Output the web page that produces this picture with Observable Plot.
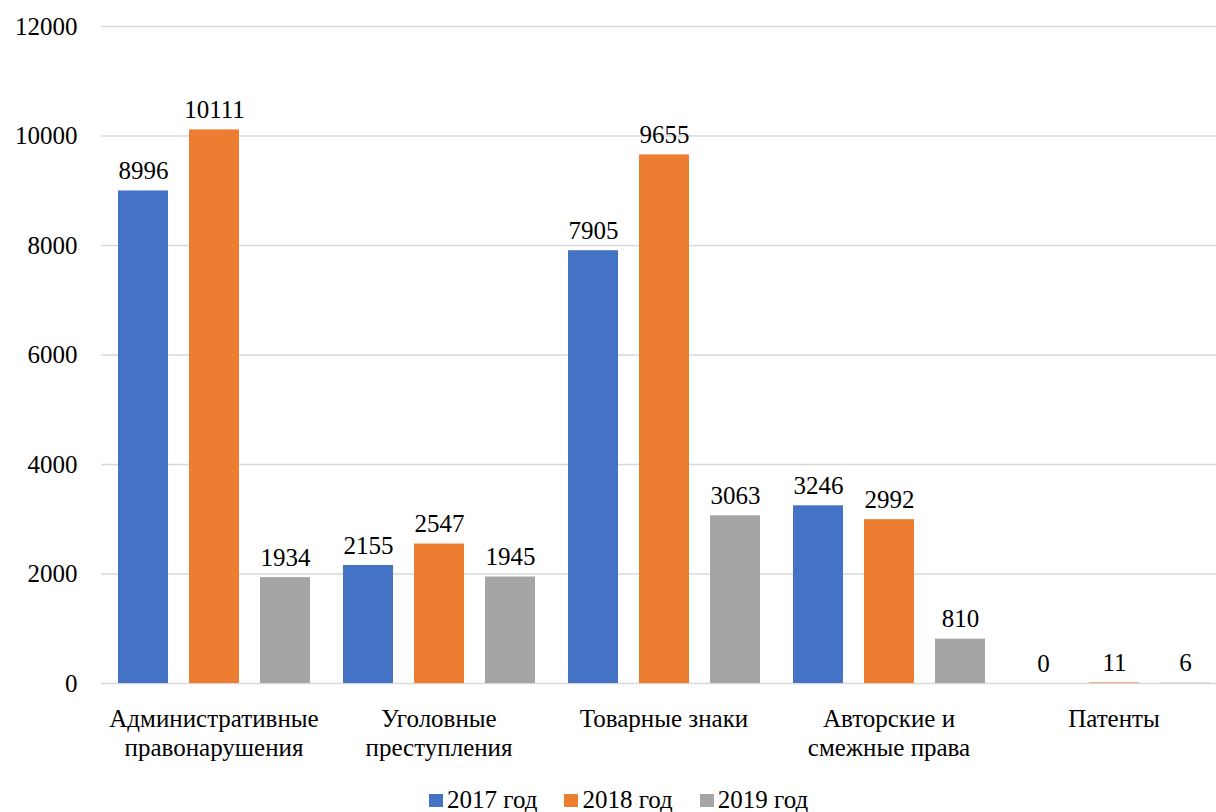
<!DOCTYPE html>
<html><head><meta charset="utf-8">
<script src="https://cdn.jsdelivr.net/npm/d3@7"></script>
<script src="https://cdn.jsdelivr.net/npm/@observablehq/plot@0.6"></script>
<style>
body{margin:0;background:#fff;overflow:hidden;width:1216px;height:812px;position:relative;font-family:'Times New Roman','Liberation Serif',serif;}
#chart{position:absolute;left:0;top:0;}
#chart svg, #chart svg text, #chart svg tspan, #legend, #legend span{font-family:'Times New Roman','Liberation Serif',serif !important;}
#legend{position:absolute;left:429px;top:785px;display:flex;align-items:center;font-size:25px;line-height:30px;color:#000;white-space:nowrap;}
.item{display:flex;align-items:center;margin-right:27px;}
.sw{display:inline-block;width:14px;height:13px;margin-right:4px;}
</style></head><body>
<div id="chart"></div>
<div id="legend"></div>
<script>
const categories = ["Административные правонарушения", "Уголовные преступления", "Товарные знаки", "Авторские и смежные права", "Патенты"];
const categoryLabels = ["Административные\nправонарушения", "Уголовные\nпреступления", "Товарные знаки", "Авторские и\nсмежные права", "Патенты"];
const years = ["2017 год", "2018 год", "2019 год"];
const values2017 = [8996, 2155, 7905, 3246, 0];
const values2018 = [10111, 2547, 9655, 2992, 11];
const values2019 = [1934, 1945, 3063, 810, 6];
const yTicks = [0, 2000, 4000, 6000, 8000, 10000, 12000];
const seriesColors = ["#4472C4", "#ED7D31", "#A5A5A5"];

const series = [values2017, values2018, values2019];
const rows = categories.flatMap((c, i) => series.map((vals, j) => ({category: c, year: years[j], value: vals[i]})));
const labelOf = new Map(categories.map((c, i) => [c, categoryLabels[i]]));
const font = "Times New Roman, Liberation Serif, serif";

const chart = Plot.plot({
  width: 1227, height: 775,
  marginLeft: 100, marginRight: 0, marginTop: 26, marginBottom: 92,
  style: {fontFamily: font, fontSize: "25px", color: "#000", background: "#fff", overflow: "visible", maxWidth: "none"},
  fx: {domain: categories, padding: 0, axis: null, label: null},
  x: {domain: years, paddingInner: 0.3, paddingOuter: 0.22, axis: null},
  y: {domain: [0, 12000], axis: null},
  color: {domain: years, range: seriesColors},
  marks: [
    Plot.gridY(yTicks, {stroke: "#d9d9d9", strokeOpacity: 1, strokeWidth: 1.5}),
    Plot.barY(rows, {fx: "category", x: "year", y: "value", fill: "year"}),
    Plot.text(rows, {fx: "category", x: "year", y: "value", text: d => String(d.value), lineAnchor: "bottom", dy: -12, fontSize: 25, fontFamily: font, fill: "#000"}),
    Plot.axisY(yTicks, {tickSize: 0, tickPadding: 24, fontSize: 25, fontFamily: font, label: null, tickFormat: d => String(d)}),
    Plot.axisFx({anchor: "bottom", tickSize: 0, tickPadding: 22, fontSize: 25, fontFamily: font, lineHeight: 1.19, label: null, tickFormat: c => labelOf.get(c)})
  ]
});
chart.style.maxWidth = "none";
document.getElementById("chart").appendChild(chart);

const legend = document.getElementById("legend");
legend.innerHTML = years.map((y, i) =>
  `<div class="item"><span class="sw" style="background:${seriesColors[i]}"></span><span>${y}</span></div>`).join("");
</script>
</body></html>
